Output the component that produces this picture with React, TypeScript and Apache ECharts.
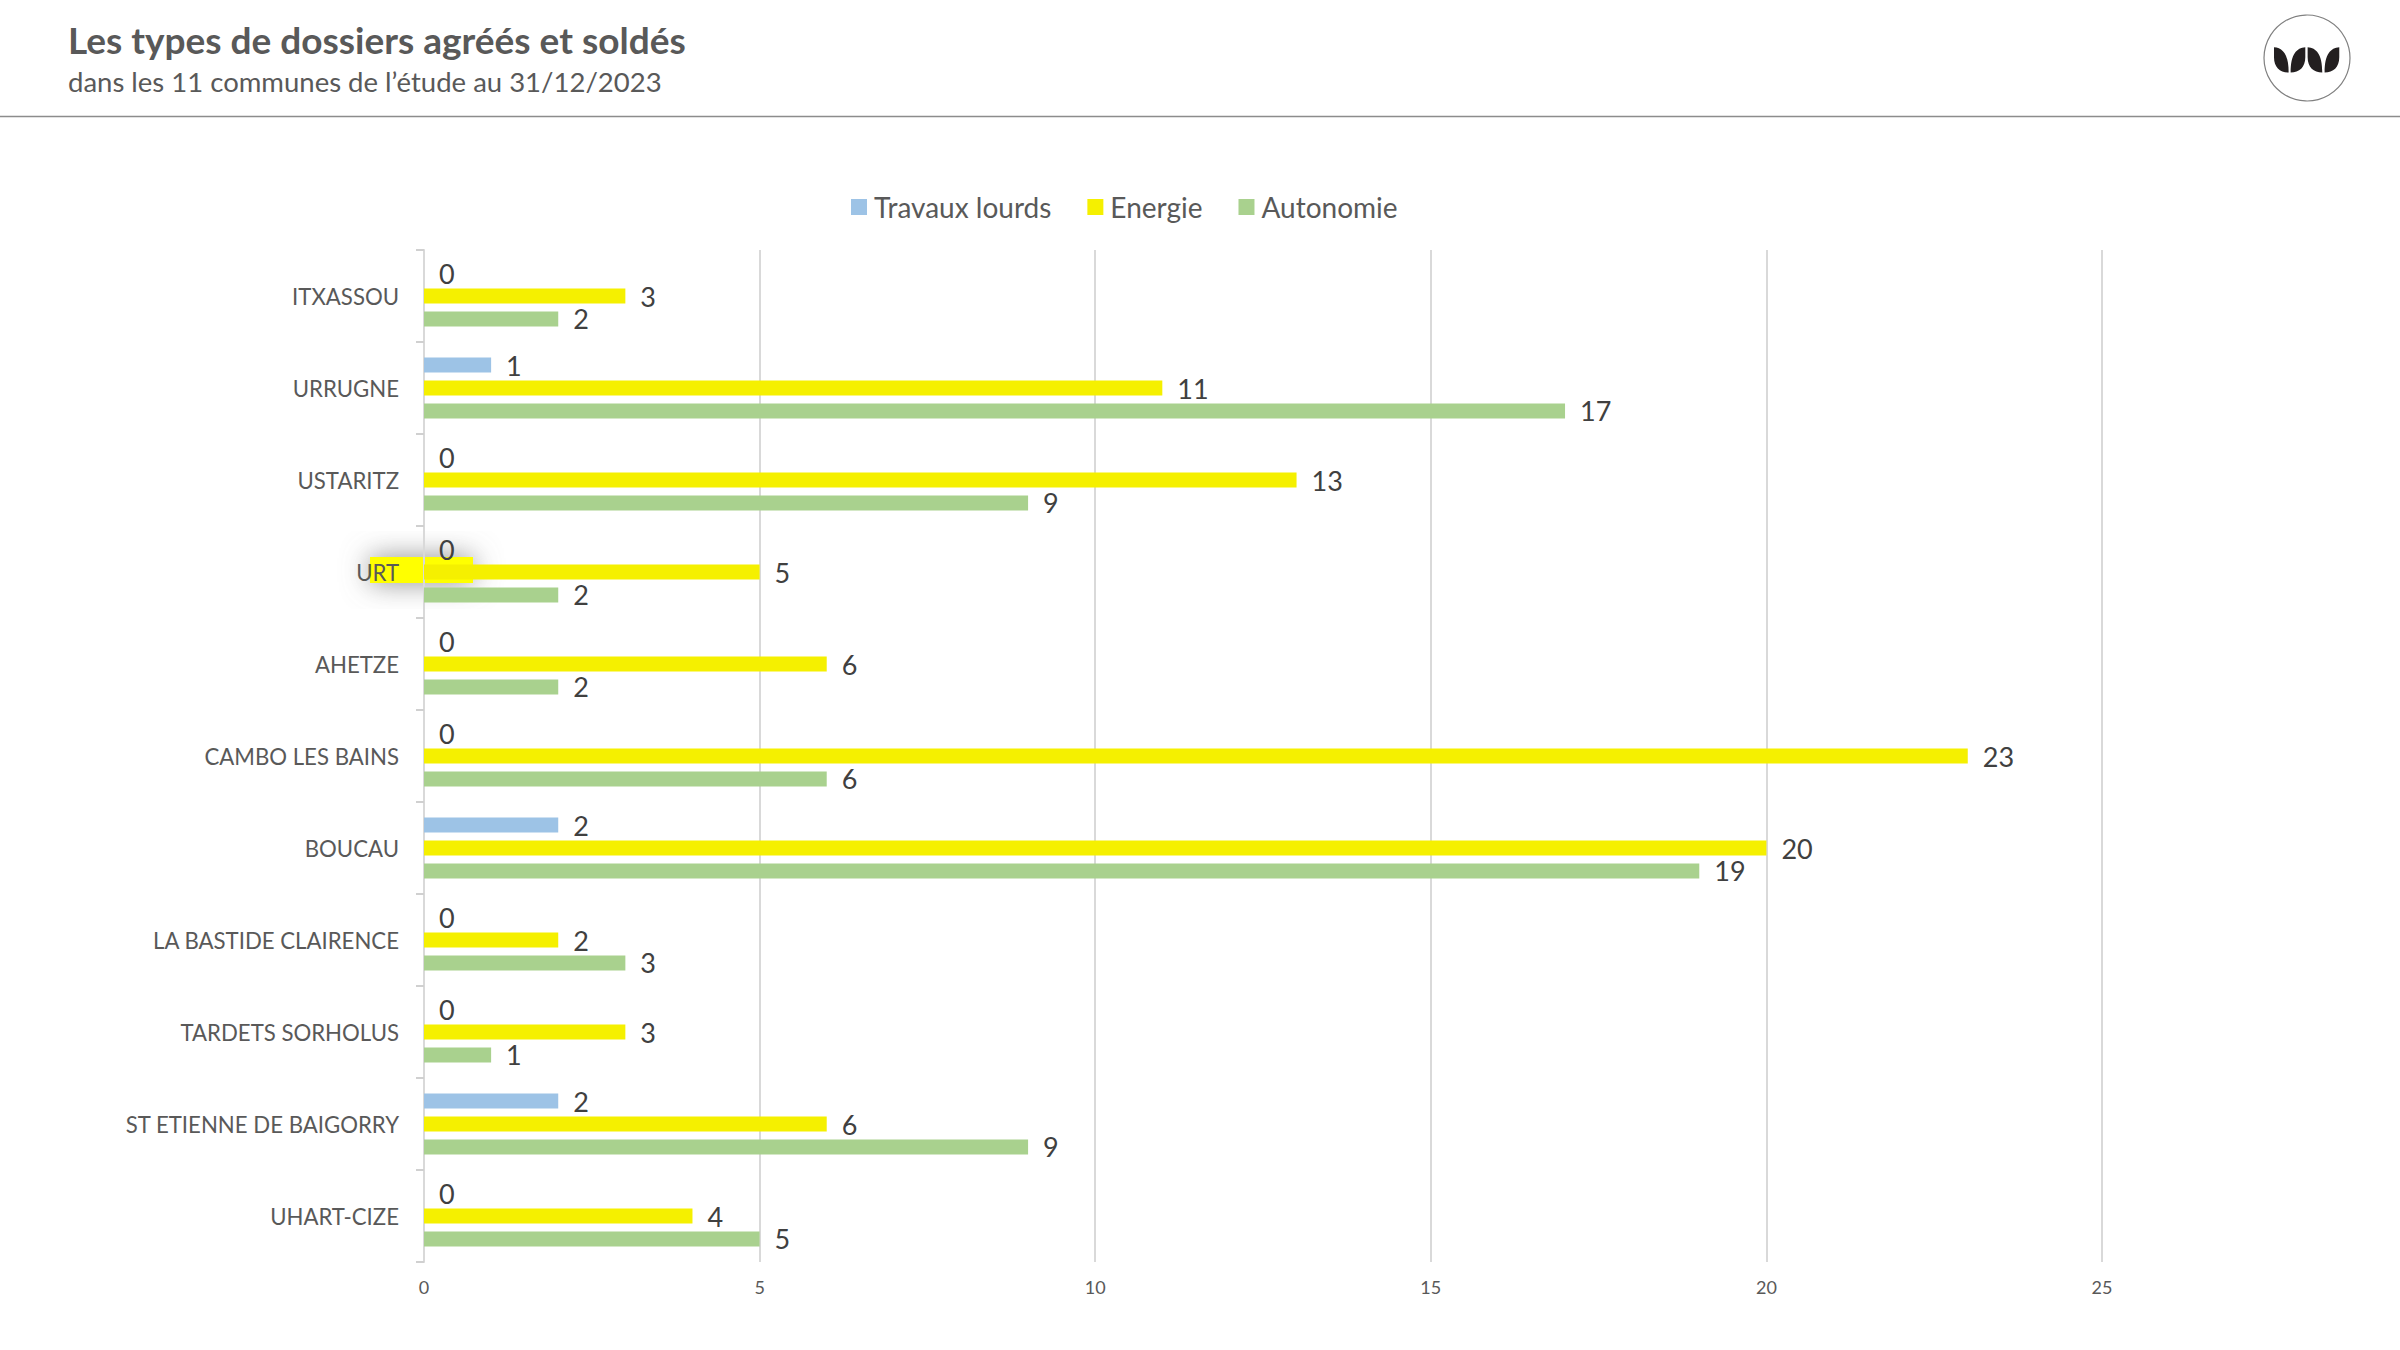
import * as echarts from "echarts";
import { useEffect, useRef } from "react";

const communes = [
  "ITXASSOU",
  "URRUGNE",
  "USTARITZ",
  "URT",
  "AHETZE",
  "CAMBO LES BAINS",
  "BOUCAU",
  "LA BASTIDE CLAIRENCE",
  "TARDETS SORHOLUS",
  "ST ETIENNE DE BAIGORRY",
  "UHART-CIZE",
];
const travauxLourds = [0, 1, 0, 0, 0, 0, 2, 0, 0, 2, 0];
const energie = [3, 11, 13, 5, 6, 23, 20, 2, 3, 6, 4];
const autonomie = [2, 17, 9, 2, 2, 6, 19, 3, 1, 9, 5];

const FONT = "Lato";

// les 4 feuilles du logo, dessinees a l'echelle 3x
const leftLeaf = (x: number) => `M${x} 0 C${x + 26} 2 ${x + 44} 20 ${x + 44} 76 C${x + 18} 76 ${x} 60 ${x} 30 Z`;
const rightLeaf = (x: number) => `M${x + 44} 0 C${x + 18} 2 ${x} 20 ${x} 76 C${x + 26} 76 ${x + 44} 60 ${x + 44} 30 Z`;
const leaves = [leftLeaf(0), rightLeaf(50), leftLeaf(101), rightLeaf(152)].join(" ");
echarts.graphic.registerShape("logoLeaves", echarts.graphic.extendPath(leaves, {}));

const makeSeries = (name: string, data: number[], color: string) => ({
  name,
  type: "bar",
  data,
  barWidth: 15,
  barGap: "53%",
  itemStyle: { color },
  label: {
    show: true,
    position: "right",
    distance: 15,
    fontFamily: FONT,
    fontSize: 27,
    color: "#404040",
  },
});

const App = () => {
  const chartRef = useRef(null);

  useEffect(() => {
    if (chartRef.current) {
      const myChart = echarts.init(chartRef.current, null, { renderer: "svg" });

      const option = {
        animation: false,
        backgroundColor: "#ffffff",
        title: {
          text: "Les types de dossiers agréés et soldés",
          subtext: "dans les 11 communes de l’étude au 31/12/2023",
          left: 68,
          top: 21,
          padding: 0,
          itemGap: 9,
          textStyle: { fontFamily: FONT, fontSize: 37, fontWeight: "bold", color: "#595959" },
          subtextStyle: { fontFamily: FONT, fontSize: 27.5, color: "#595959" },
        },
        legend: {
          left: 851,
          top: 193,
          padding: 0,
          icon: "rect",
          itemWidth: 16,
          itemHeight: 16,
          itemGap: 36,
          textStyle: { fontFamily: FONT, fontSize: 28, color: "#595959", padding: [0, 0, 0, 2] },
          data: ["Travaux lourds", "Energie", "Autonomie"],
        },
        grid: { left: 424, top: 250, width: 1678, height: 1012, containLabel: false },
        xAxis: {
          type: "value",
          min: 0,
          max: 25,
          interval: 5,
          axisLine: { show: false },
          axisTick: { show: false },
          axisLabel: { fontFamily: FONT, fontSize: 18, color: "#595959", margin: 16 },
          splitLine: { lineStyle: { color: "#d9d9d9", width: 2 } },
        },
        yAxis: {
          type: "category",
          inverse: true,
          data: communes,
          axisLine: { lineStyle: { color: "#d9d9d9", width: 2 } },
          axisTick: { show: true, length: 8, lineStyle: { color: "#d0d0d0", width: 2 } },
          axisLabel: { fontFamily: FONT, fontSize: 22.2, color: "#595959", margin: 25 },
        },
        series: [
          makeSeries("Travaux lourds", travauxLourds, "#9dc3e6"),
          makeSeries("Energie", energie, "#f5f000"),
          makeSeries("Autonomie", autonomie, "#a9d18e"),
        ],
        graphic: [
          // surlignage jaune sur URT
          {
            type: "rect",
            z: -1,
            shape: { x: 370, y: 557, width: 103, height: 26 },
            style: { fill: "#ffff00", shadowBlur: 28, shadowColor: "rgba(130,130,130,0.9)" },
          },
          // trait sous l'en-tete
          {
            type: "line",
            shape: { x1: 0, y1: 116.5, x2: 2400, y2: 116.5 },
            style: { stroke: "#8c8c8c", lineWidth: 1.5 },
          },
          // logo
          {
            type: "circle",
            shape: { cx: 2307, cy: 58, r: 43 },
            style: { fill: "#ffffff", stroke: "#808080", lineWidth: 1.2 },
          },
          {
            type: "logoLeaves",
            x: 2274,
            y: 47.3,
            scaleX: 1 / 3,
            scaleY: 1 / 3,
            style: { fill: "#231f20" },
          },
        ],
      };

      myChart.setOption(option);

      // Clean up
      return () => {
        myChart.dispose();
      };
    }
  }, []);

  return <div ref={chartRef} style={{ position: "fixed", left: 0, top: 0, width: 2400, height: 1350 }} />;
};

export default App;
